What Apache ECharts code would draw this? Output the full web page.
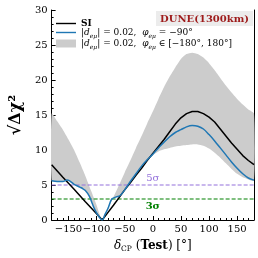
<!DOCTYPE html>
<html><head><meta charset="utf-8">
<script src="https://cdn.jsdelivr.net/npm/echarts@6/dist/echarts.min.js"></script>
<style>html,body{margin:0;padding:0;background:#fff}#c{width:258px;height:258px}</style>
</head><body><div id="c"></div>
<script>
const deltaCP = [-180,-170,-160,-150,-140,-130,-120,-110,-100,-90,-80,-70,-60,-50,-40,-30,-20,-10,0,10,20,30,40,50,60,70,80,90,100,110,120,130,140,150,160,170,180];
const siValues = [7.9,7.0,6.1,5.25,4.4,3.5,2.6,1.75,0.9,0,1.05,2.1,3.2,4.3,5.3,6.4,7.4,8.5,9.5,10.5,11.5,12.6,13.7,14.6,15.2,15.5,15.5,15.2,14.7,14.0,13.0,12.0,11.0,10.1,9.2,8.5,7.9];
const bandLower = [5.6,5.5,5.5,5.6,5.1,4.7,4.2,3.0,1.0,0,1.6,3.1,3.4,4.3,5.5,6.6,7.7,8.6,9.3,9.8,10.1,10.3,10.5,10.6,10.7,10.8,10.8,10.6,10.2,9.6,8.9,8.1,7.3,6.6,6.1,5.8,5.6];
const bandUpper = [15.2,14.1,12.9,11.5,10.0,8.2,6.3,4.2,2.1,0,1.8,3.3,5.0,6.8,8.5,10.3,12.0,13.8,15.5,17.3,19.0,20.5,21.8,23.0,23.7,23.9,23.7,23.2,22.4,21.4,20.3,19.2,18.2,17.3,16.5,15.8,15.2];
const blueX = [-180,-170,-160,-153,-148,-140,-130,-125,-120,-113,-105,-100,-90,-85,-80,-73,-65,-58,-50,-40,-30,-20,-10,0,10,20,30,40,50,60,70,80,90,100,110,120,130,140,150,160,170,180];
const blueY = [5.6,5.5,5.5,5.7,5.6,5.1,4.7,4.5,4.2,3.4,1.8,1.0,0,0.8,1.6,3.0,3.3,3.5,4.3,5.5,6.6,7.7,8.6,9.4,10.3,11.1,11.9,12.5,12.9,13.3,13.5,13.4,13.0,12.2,11.3,10.3,9.3,8.3,7.4,6.6,6.0,5.7];
const xTicks = [-150,-100,-50,0,50,100,150];
const sigmaLevels = [5, 3];
const sigmaLabels = ['5σ', '3σ'];
const sigmaSpan = [-180, 0, 180];

const FF = 'DejaVu Serif';
const pair = (xs, ys) => xs.map((x, i) => [x, ys[i]]);
const names = {
  si: 'SI',
  phi: '|d_eμ| = 0.02, φ_eμ = −90°',
  band: '|d_eμ| = 0.02, φ_eμ ∈ [−180°, 180°]'
};
const FS = 9;
const legendRich = {
  n: {fontFamily: FF, fontSize: FS, lineHeight: 13, color: '#000'},
  b: {fontFamily: FF, fontSize: FS, fontWeight: 'bold', lineHeight: 13, color: '#000'},
  i: {fontFamily: FF, fontSize: FS, fontStyle: 'italic', lineHeight: 13, color: '#000'},
  s: {fontFamily: FF, fontSize: 6, fontStyle: 'italic', lineHeight: 13, verticalAlign: 'bottom', color: '#000'}
};
const legendText = {
  [names.si]: '{b|SI}',
  [names.phi]: '{n||}{i|d}{s|eμ}{n|| = 0.02,  }{i|φ}{s|eμ}{n| = −90°}',
  [names.band]: '{n||}{i|d}{s|eμ}{n|| = 0.02,  }{i|φ}{s|eμ}{n| ∈ [−180°, 180°]}'
};
const lineIcon = 'path://M0 0 M0 3.3 H20 V4.7 H0 Z M20 8';

const sigmaSeries = (level, label, color, pos, bold) => ({
  name: 'sigma' + level, type: 'line', z: 3, symbol: 'circle', symbolSize: 0, showSymbol: true,
  lineStyle: {color: color, type: [4, 2], width: 1.2},
  itemStyle: {color: color},
  data: sigmaSpan.map((x, i) => i === 1
    ? {value: [x, level], label: {show: true, formatter: label, position: pos, distance: 2,
        color: color, fontFamily: FF, fontSize: 10, fontWeight: bold ? 'bold' : 'normal'}}
    : {value: [x, level], label: {show: false}})
});

const chart = echarts.init(document.getElementById('c'), null, {renderer: 'canvas'});
chart.setOption({
  animation: false,
  backgroundColor: '#fff',
  grid: {left: 44, right: 4, top: 10, bottom: 34},
  title: {
    text: 'DUNE(1300km)', right: 5, top: 11,
    backgroundColor: '#ececec', padding: [3, 4, 2, 4],
    textStyle: {fontFamily: FF, fontSize: 10, fontWeight: 'bold', color: '#9e1b1b'}
  },
  legend: {
    left: 51, top: 14, orient: 'vertical', itemWidth: 20, itemHeight: 8, itemGap: 0,
    data: [
      {name: names.si, icon: lineIcon, itemStyle: {color: '#000'}},
      {name: names.phi, icon: lineIcon, itemStyle: {color: '#1f77b4'}},
      {name: names.band, icon: 'rect', itemStyle: {color: '#cccccc'}}
    ],
    formatter: n => legendText[n],
    textStyle: {rich: legendRich, padding: [0, 0, 0, 0]}
  },
  xAxis: [{
    type: 'value', min: -180, max: 180, position: 'bottom',
    splitLine: {show: false},
    axisLine: {show: true, onZero: false, lineStyle: {color: '#000', width: 1}},
    axisTick: {inside: true, length: 4, customValues: xTicks, lineStyle: {color: '#000'}},
    axisLabel: {customValues: xTicks, fontFamily: FF, fontSize: 10, color: '#000', margin: 4,
      formatter: v => String(v).replace('-', '−')},
    name: '{i|δ}{s|CP} ({b|Test}) [°]', nameLocation: 'middle', nameGap: 18,
    nameTextStyle: {rich: {
      i: {fontFamily: FF, fontSize: 12, fontStyle: 'italic', lineHeight: 15, color: '#000'},
      s: {fontFamily: FF, fontSize: 7.5, lineHeight: 15, verticalAlign: 'bottom', color: '#000'},
      b: {fontFamily: FF, fontSize: 12, fontWeight: 'bold', lineHeight: 15, color: '#000'}
    }, fontFamily: FF, fontSize: 12, color: '#000'}
  }, {
    type: 'value', min: -180, max: 180, interval: 10, position: 'bottom',
    axisLine: {show: false, onZero: false}, splitLine: {show: false},
    axisTick: {inside: true, length: 2, lineStyle: {color: '#000'}},
    axisLabel: {show: false}
  }],
  yAxis: [{
    type: 'value', min: 0, max: 30, interval: 5, position: 'left',
    splitLine: {show: false},
    axisLine: {show: true, onZero: false, lineStyle: {color: '#000', width: 1}},
    axisTick: {inside: true, length: 4, lineStyle: {color: '#000'}},
    minorTick: {show: true, splitNumber: 5, length: 2, lineStyle: {color: '#000'}},
    axisLabel: {fontFamily: FF, fontSize: 10, color: '#000', margin: 4},
    name: '√Δχ²', nameLocation: 'middle', nameGap: 23, nameRotate: 90,
    nameTextStyle: {fontFamily: FF, fontSize: 16, fontWeight: 'bold', color: '#000'}
  }, {
    type: 'value', min: 0, max: 30, interval: 5, position: 'right',
    splitLine: {show: false},
    axisLine: {show: true, onZero: false, lineStyle: {color: '#000', width: 1}},
    axisTick: {show: false}, axisLabel: {show: false}
  }],
  series: [
    {
      name: names.band, type: 'custom', z: 1, clip: true,
      data: [[0, 0]],
      itemStyle: {color: '#cccccc'},
      renderItem: (params, api) => {
        const pts = [];
        for (let i = 0; i < deltaCP.length; i++) pts.push(api.coord([deltaCP[i], bandUpper[i]]));
        for (let i = deltaCP.length - 1; i >= 0; i--) pts.push(api.coord([deltaCP[i], bandLower[i]]));
        return {type: 'polygon', shape: {points: pts, smooth: 0.2}, style: {fill: '#cccccc'}};
      }
    },
    sigmaSeries(sigmaLevels[0], sigmaLabels[0], '#9370db', 'top', false),
    sigmaSeries(sigmaLevels[1], sigmaLabels[1], '#008000', 'bottom', true),
    {
      name: names.si, type: 'line', symbol: 'none', data: pair(deltaCP, siValues),
      lineStyle: {color: '#000', width: 1.5}, itemStyle: {color: '#000'}, z: 4
    },
    {
      name: names.phi, type: 'line', symbol: 'none', smooth: 0.3, data: pair(blueX, blueY),
      lineStyle: {color: '#1f77b4', width: 1.5}, itemStyle: {color: '#1f77b4'}, z: 5
    }
  ]
});
</script>
</body></html>
